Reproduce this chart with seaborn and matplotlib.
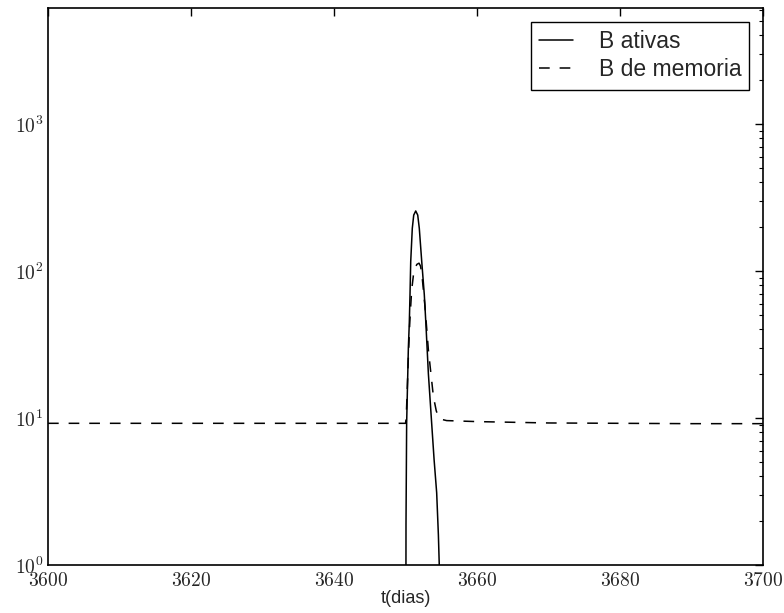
import numpy as np
import pandas as pd
import matplotlib
matplotlib.use("Agg")
import matplotlib.pyplot as plt
import matplotlib.ticker as mticker
import seaborn as sns

# values
t_ativas = [3650.02, 3650.07, 3650.16, 3650.4, 3650.53, 3650.63, 3650.73, 3650.95,
            3651.15, 3651.43, 3651.71, 3651.93, 3652.27, 3652.63, 3652.85,
            3653.2, 3653.66, 3654.0, 3654.36, 3654.6, 3654.75, 3654.8]
b_ativas = [0.01, 1.9, 9.2, 30, 44, 69, 116, 195,
            240, 256, 240, 195, 116, 69, 44,
            20, 9.2, 5.2, 3.1, 1.6, 0.9, 0.01]

t_memoria = [3600, 3620, 3640, 3650.0, 3650.1, 3650.25, 3650.4, 3650.6, 3650.86,
             3651.1, 3651.33, 3651.6, 3651.89, 3652.1, 3652.3, 3652.73, 3653.2,
             3653.9, 3654.3, 3654.6, 3655.0, 3655.76, 3660, 3665,
             3670, 3680, 3690, 3700]
b_memoria = [9.2, 9.2, 9.2, 9.2, 10, 16, 26, 45, 74,
             93, 105, 111, 113, 108, 94, 57, 29,
             14, 11.2, 10.2, 9.8, 9.6, 9.45, 9.35,
             9.25, 9.2, 9.15, 9.15]

xticks = [3600, 3620, 3640, 3660, 3680, 3700]

sns.set_style("white")
plt.rcParams['font.family'] = ['Liberation Sans', 'DejaVu Sans']
plt.rcParams['mathtext.fontset'] = 'cm'

df_a = pd.DataFrame({'t': t_ativas, 'B': b_ativas})
df_m = pd.DataFrame({'t': t_memoria, 'B': b_memoria})

fig = plt.figure(figsize=(7.84, 6.13), dpi=100)
ax = fig.add_axes([48 / 784, 48 / 613, 715 / 784, 557 / 613])

sns.lineplot(data=df_a, x='t', y='B', ax=ax, color='black', linewidth=1.1,
             label='B ativas')
sns.lineplot(data=df_m, x='t', y='B', ax=ax, color='black', linewidth=1.1,
             linestyle=(0, (7, 6.5)), label='B de memoria')

ax.set_yscale('log')
ax.set_xlim(3600, 3700)
ax.set_ylim(1, 6150)
ax.set_xticks(xticks)
ax.xaxis.set_major_formatter(mticker.FuncFormatter(lambda v, p: r'$%d$' % v))
ax.yaxis.set_major_formatter(mticker.FuncFormatter(
    lambda v, p: r'$10^{%d}$' % round(np.log10(v))))
ax.xaxis.set_minor_locator(mticker.NullLocator())

ax.tick_params(which='both', direction='in', top=True, right=True,
               labelsize=14, color='black')
ax.tick_params(which='major', length=6, width=1)
ax.tick_params(which='minor', length=3, width=0.8)
ax.tick_params(axis='x', pad=5)

for s in ax.spines.values():
    s.set_color('black')
    s.set_linewidth(1.2)

ax.set_xlabel('t(dias)', fontsize=13, labelpad=0)
ax.set_ylabel('')

leg = ax.legend(loc='upper right', fontsize=16.5, handlelength=1.5,
                handletextpad=1.1, labelspacing=0.25, borderpad=0.35,
                fancybox=False, framealpha=1, borderaxespad=0.6)
leg.get_frame().set_edgecolor('black')
leg.get_frame().set_linewidth(1.0)

fig.savefig('out.png', dpi=100, facecolor='white')
